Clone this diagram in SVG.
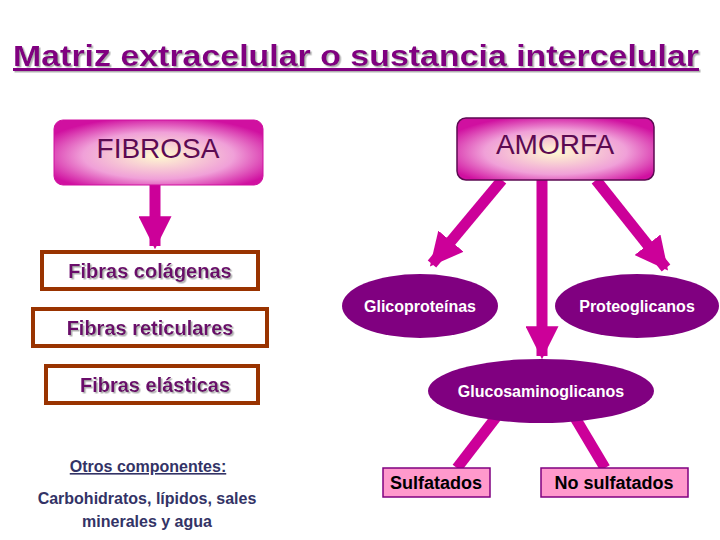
<svg xmlns="http://www.w3.org/2000/svg" width="720" height="540" viewBox="0 0 720 540">
<style>
text{font-family:"Liberation Sans",Arial,sans-serif}
.hd{font-size:28px;fill:#5c0a52;text-anchor:middle}
.fb{font-size:20px;fill:#6a0a6a;text-anchor:middle;font-weight:bold}
.fbox{fill:#fff;stroke:#993300;stroke-width:4}
.ell{fill:#800080}
.et{font-size:16px;fill:#fff;font-weight:bold;text-anchor:middle}
.pk{fill:#ff99cc;stroke:#800080;stroke-width:1.5}
.pt{font-size:18px;fill:#000;font-weight:bold;text-anchor:middle}
.ar{stroke:#cc0099;stroke-width:11;fill:none}
.ot{font-size:16px;fill:#333366;font-weight:bold;text-anchor:middle}
</style>
<defs>
<radialGradient id="g" cx="50%" cy="55%" r="60%">
<stop offset="0" stop-color="#fffbd0"/><stop offset="0.6" stop-color="#f0a0d8"/><stop offset="1" stop-color="#d010a0"/>
</radialGradient>
<marker id="ah" viewBox="0 0 10 10" refX="9" refY="5" markerWidth="3" markerHeight="3" orient="auto" markerUnits="strokeWidth">
<path d="M0,0L10,5L0,10z" fill="#cc0099"/>
</marker>
<filter id="sh"><feDropShadow dx="1.5" dy="1.5" stdDeviation="0" flood-color="#b0b0b0"/></filter>
</defs>
<rect width="720" height="540" fill="#fff"/>
<g id="title">
<text x="356" y="66" text-anchor="middle" font-size="30" font-weight="bold" fill="#800080" textLength="686" lengthAdjust="spacingAndGlyphs" text-decoration="underline" filter="url(#sh)">Matriz extracelular o sustancia intercelular</text>
</g>
<g id="connectors">
<line class="ar" x1="155" y1="185" x2="155" y2="246" marker-end="url(#ah)"/>
<line class="ar" x1="502" y1="180" x2="432" y2="264" marker-end="url(#ah)"/>
<line class="ar" x1="542" y1="180" x2="542" y2="356" marker-end="url(#ah)"/>
<line class="ar" x1="596" y1="180" x2="666" y2="268" marker-end="url(#ah)"/>
<line class="ar" stroke-width="10" x1="497" y1="416" x2="457" y2="468"/>
<line class="ar" stroke-width="10" x1="574" y1="416" x2="605" y2="468"/>
</g>
<g id="fibrosa">
<rect x="54" y="120" width="209" height="65" rx="9" fill="url(#g)" stroke="#d010a0"/>
<text class="hd" x="158" y="158">FIBROSA</text>
</g>
<g id="amorfa">
<rect x="457" y="118" width="197" height="62" rx="9" fill="url(#g)" stroke="#5c0a52" stroke-width="1.5"/>
<text class="hd" x="555" y="154">AMORFA</text>
</g>
<g id="colagenas">
<rect class="fbox" x="42" y="252" width="216" height="37"/>
<text class="fb" x="150" y="278" filter="url(#sh)">Fibras colágenas</text>
</g>
<g id="reticulares">
<rect class="fbox" x="33" y="309" width="234" height="37"/>
<text class="fb" x="150" y="335" filter="url(#sh)">Fibras reticulares</text>
</g>
<g id="elasticas">
<rect class="fbox" x="46" y="366" width="212" height="37"/>
<text class="fb" x="155" y="392" filter="url(#sh)">Fibras elásticas</text>
</g>
<g id="glicoproteinas">
<ellipse class="ell" cx="420" cy="306" rx="78" ry="32"/>
<text class="et" x="420" y="312">Glicoproteínas</text>
</g>
<g id="proteoglicanos">
<ellipse class="ell" cx="637" cy="306" rx="82" ry="32"/>
<text class="et" x="637" y="312">Proteoglicanos</text>
</g>
<g id="glucosaminoglicanos">
<ellipse class="ell" cx="541" cy="391" rx="113" ry="32"/>
<text class="et" x="541" y="397">Glucosaminoglicanos</text>
</g>
<g id="sulfatados">
<rect class="pk" x="383" y="468" width="107" height="29"/>
<text class="pt" x="436" y="489">Sulfatados</text>
</g>
<g id="nosulfatados">
<rect class="pk" x="541" y="468" width="147" height="29"/>
<text class="pt" x="614" y="489">No sulfatados</text>
</g>
<g id="otros">
<text class="ot" x="148" y="472" font-size="15" text-decoration="underline">Otros componentes:</text>
<text class="ot" x="147" y="504">Carbohidratos, lípidos, sales</text>
<text class="ot" x="147" y="527">minerales y agua</text>
</g>
</svg>
